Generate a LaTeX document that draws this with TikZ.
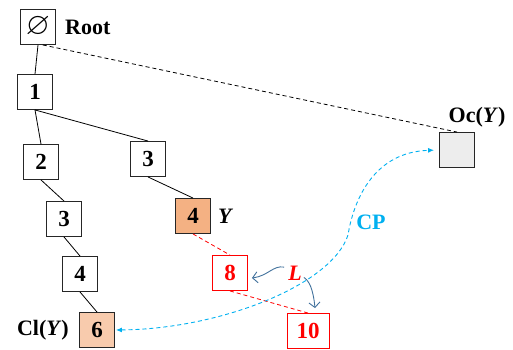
\documentclass[tikz,border=0pt]{standalone}
\usepackage{amssymb}
\usepackage{fontspec}
\setmainfont{Liberation Serif}
\usetikzlibrary{arrows.meta,calc}
\definecolor{nodeorange}{HTML}{F4B183}
\definecolor{lightorange}{HTML}{F8CBAD}
\definecolor{ocgray}{HTML}{EDEDED}
\definecolor{cpblue}{HTML}{00B0F0}
\definecolor{steel}{HTML}{41719C}
\begin{document}
\begin{tikzpicture}[x=1pt,y=-1pt,
  box/.style={draw=black!85, line width=0.9pt, minimum width=35pt, minimum height=35pt,
              inner sep=0pt, font=\fontsize{23}{23}\selectfont\bfseries},
  redbox/.style={box, draw=red, text=red},
  lbl/.style={font=\fontsize{22}{22}\selectfont\bfseries, inner sep=0pt},
  tree/.style={line width=0.8pt},
  reddash/.style={red, line width=0.8pt, dash pattern=on 4pt off 3pt},
  cplink/.style={cpblue, line width=0.9pt, dash pattern=on 4pt off 3pt,
                 {Latex[length=6pt,width=5pt]}-{Latex[length=6pt,width=5pt]}},
  lpoint/.style={steel, line width=0.9pt, -{Straight Barb[length=5pt,width=11pt]}}]
\useasboundingbox (0,0) rectangle (513,350);

% tree nodes
\node[box] (root) at (38,27) {\fontsize{31}{31}\selectfont$\varnothing$};
\node[box] (n1) at (35,92) {1};
\node[box] (n2) at (41,162) {2};
\node[box] (n3) at (64,219) {3};
\node[box] (n4) at (80,274) {4};
\node[box, fill=lightorange] (n6) at (97,330) {6};
\node[box] (m3) at (148,159) {3};
\node[box, fill=nodeorange] (m4) at (193,216) {4};
\node[redbox] (r8) at (230,273) {8};
\node[redbox, minimum width=42pt] (r10) at (308,331) {10};
\node[box, fill=ocgray] (oc) at (457,150) {};

% labels
\node[lbl, anchor=west] (rootlbl) at (65,27) {Root};
\node[lbl, anchor=west] (ylbl) at (218,216) {\itshape Y};
\node[lbl, anchor=east] (cllbl) at (69,330) {Cl(\textit{Y})};
\node[lbl] (oclbl) at (477,117) {Oc(\textit{Y})};
\node[lbl, text=cpblue] (cplbl) at (371,222) {CP};
\node[lbl, text=red] (L) at (295,273) {\itshape L};

% tree edges
\draw[tree] (root.south) -- (n1.north);
\draw[tree] (n1.south) -- (n2.north);
\draw[tree] (n1.south) -- (m3.north);
\draw[tree] (n2.south) -- (n3.north);
\draw[tree] (n3.south) -- (n4.north);
\draw[tree] (n4.south) -- (n6.north);
\draw[tree] (m3.south) -- (m4.north);
\draw[reddash] (m4.south) -- (r8.north);
\draw[reddash] (r8.south) -- (r10.north);

% root to Oc(Y)
\draw[line width=0.8pt, dash pattern=on 4pt off 3pt] (root.-75) -- (oc.north);

% CP link
\draw[cplink, shorten <=1pt, shorten >=5pt] (n6.east)
  .. controls (220,329) and (332,285) .. (348,235)
  .. controls (354,198) and (375,152) .. (oc.west);

% L pointers
\draw[lpoint] ([shift={(-4,1.5)}]L.north west)
  .. controls +(-11,-2) and +(16,-2) .. ([shift={(4,5)}]r8.east);
\draw[lpoint] ([shift={(2,-3)}]L.south east)
  .. controls +(8,5) and +(-1,-10) .. ([shift={(7,-5)}]r10.north);
\end{tikzpicture}
\end{document}
